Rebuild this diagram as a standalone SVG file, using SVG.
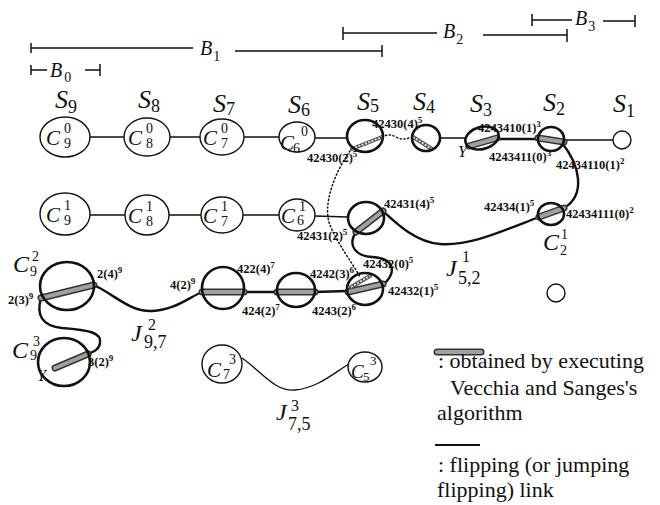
<svg xmlns="http://www.w3.org/2000/svg" width="660" height="505" viewBox="0 0 660 505">
<style>
.c{fill:none;stroke:#111;stroke-width:1.4}
.cb{fill:none;stroke:#111;stroke-width:2.6}
.ln{stroke:#111;stroke-width:1.3;fill:none}
.thk{stroke:#111;stroke-width:2.6;fill:none}
.cur{stroke:#111;stroke-width:2.4;fill:none;stroke-linecap:round}
.dot{stroke:#111;stroke-width:1.5;fill:none;stroke-dasharray:1.2 2.6;stroke-linecap:round}
.band{stroke:#333;stroke-width:7;stroke-linecap:round;fill:none}
.bandi{stroke:#a0a0a0;stroke-width:4;stroke-linecap:round;fill:none}
.hb{stroke:#555;stroke-width:4;fill:none;stroke-linecap:round}
.hbi{stroke:#ddd;stroke-width:2;fill:none;stroke-dasharray:2 1.5}
.bar{stroke:#111;stroke-width:1.5;fill:none}
.m{font-family:"Liberation Serif",serif;font-style:italic;fill:#111}
.n{font-family:"Liberation Serif",serif;font-style:normal;fill:#111}
.lab{font-family:"Liberation Serif",serif;font-weight:bold;font-size:12.5px;fill:#111}
.leg{font-family:"Liberation Serif",serif;font-size:22px;fill:#111}
</style>

<g id="bars">
<path class="bar" d="M31,43V53M31,48H193M235,51H382M382,45V57"/>
<text class="m" x="200" y="55" font-size="20">B<tspan class="n" font-size="14" dx="1" dy="6">1</tspan></text>
<path class="bar" d="M31,65V75M31,70H47M85,70H100M100,64V76"/>
<text class="m" x="50" y="77" font-size="20">B<tspan class="n" font-size="14" dx="2" dy="5">0</tspan></text>
<path class="bar" d="M343,27V40M343,33H437M483,35H567M567,29V42"/>
<text class="m" x="443" y="38" font-size="20">B<tspan class="n" font-size="14" dx="1" dy="6">2</tspan></text>
<path class="bar" d="M532,14V26M532,20H572M603,21H635M635,15V27"/>
<text class="m" x="575" y="25" font-size="20">B<tspan class="n" font-size="14" dx="1" dy="6">3</tspan></text>
</g>

<g id="stage-labels">
<text class="m" x="55" y="108" font-size="26">S<tspan class="n" font-size="18" dy="5">9</tspan></text>
<text class="m" x="138" y="108" font-size="26">S<tspan class="n" font-size="18" dy="4">8</tspan></text>
<text class="m" x="213" y="112" font-size="26">S<tspan class="n" font-size="18" dy="3">7</tspan></text>
<text class="m" x="288" y="113" font-size="26">S<tspan class="n" font-size="18" dy="3">6</tspan></text>
<text class="m" x="357" y="110" font-size="26">S<tspan class="n" font-size="18" dy="2">5</tspan></text>
<text class="m" x="413" y="110" font-size="26">S<tspan class="n" font-size="18" dy="3">4</tspan></text>
<text class="m" x="470" y="112" font-size="26">S<tspan class="n" font-size="18" dy="4">3</tspan></text>
<text class="m" x="543" y="111" font-size="26">S<tspan class="n" font-size="18" dy="4">2</tspan></text>
<text class="m" x="613" y="112" font-size="26">S<tspan class="n" font-size="18" dy="5">1</tspan></text>
</g>

<g id="connectors">
<path class="ln" d="M90,137H124M170,137H200M244,137H279M315,138H347M440,138H466M564,140H613"/>
<path class="thk" d="M498,139H538"/>
<path class="ln" d="M90,215H125M169,215H201M243,215H279M315,216L348,217"/>
<path class="thk" d="M244,292H277M315,292L347,291"/>
<path class="cur" d="M562,143C580,165 586,195 564,208"/>
<path class="cur" d="M539,217C500,232 470,246 440,244C415,242 395,222 383,211"/>
<path class="cur" d="M356,232C347,246 356,256 372,257C392,258 399,270 383,285"/>
<path class="cur" d="M94,285C115,295 130,312 152,311C175,310 188,298 202,292"/>
<path class="cur" d="M41,298C36,315 42,326 62,328C90,330 102,333 100,343C99,350 93,352 88,354"/>
<path class="ln" d="M242,358C262,372 275,392 295,390C318,388 335,372 349,364"/>
<path class="dot" d="M382,137Q389,133 396,137T411,137"/>
<path class="dot" d="M350,151C335,172 322,205 330,225C338,245 352,262 360,277"/>
<path class="band" d="M469,146L497,138"/><path class="bandi" d="M469,146L497,138"/>
<path class="band" d="M538,138L564,142"/><path class="bandi" d="M538,138L564,142"/>
<path class="band" d="M539,217L564,208"/><path class="bandi" d="M539,217L564,208"/>
<path class="band" d="M356,232L383,211"/><path class="bandi" d="M356,232L383,211"/>
<path class="band" d="M348,292L383,284"/><path class="bandi" d="M348,292L383,284"/>
<path class="band" d="M277,292H315"/><path class="bandi" d="M277,292H315"/>
<path class="band" d="M202,292H244"/><path class="bandi" d="M202,292H244"/>
<path class="band" d="M41,298L94,285"/><path class="bandi" d="M41,298L94,285"/>
<path class="band" d="M55,368L88,354"/><path class="bandi" d="M55,368L88,354"/>
<path class="hb" d="M352,149L382,137"/><path class="hbi" d="M352,149L382,137"/>
<path class="hb" d="M413,137L432,149"/><path class="hbi" d="M413,137L432,149"/>
<path class="hb" d="M351,287L370,276"/><path class="hbi" d="M351,287L370,276"/>
</g>

<g id="C9_0"><ellipse class="c" cx="65" cy="137" rx="25" ry="20"/><text class="m" x="46" y="145" font-size="21">C</text><text class="n" x="64" y="133" font-size="14">0</text><text class="n" x="64" y="148" font-size="14">9</text></g>
<g id="C8_0"><ellipse class="c" cx="147" cy="137" rx="23" ry="19"/><text class="m" x="128" y="145" font-size="21">C</text><text class="n" x="146" y="133" font-size="14">0</text><text class="n" x="146" y="148" font-size="14">8</text></g>
<g id="C7_0"><ellipse class="c" cx="222" cy="137" rx="22" ry="18"/><text class="m" x="203" y="145" font-size="21">C</text><text class="n" x="221" y="133" font-size="14">0</text><text class="n" x="221" y="148" font-size="14">7</text></g>
<g id="C6_0"><ellipse class="c" cx="297" cy="137" rx="18" ry="15"/><text class="m" x="280" y="150" font-size="21">C</text><text class="n" x="301" y="136" font-size="14">0</text><text class="n" x="293" y="153" font-size="14">6</text></g>
<g id="C5_0"><ellipse class="cb" cx="365" cy="136" rx="18" ry="16"/></g>
<g id="C4_0"><ellipse class="cb" cx="426" cy="138" rx="14" ry="13"/></g>
<g id="C3_0"><ellipse class="cb" cx="482" cy="138" rx="17" ry="11" transform="rotate(-15 482 138)"/></g>
<g id="C2_0"><ellipse class="cb" cx="551" cy="139" rx="13" ry="12"/></g>
<g id="C1_0"><circle class="c" cx="622" cy="140" r="9"/></g>

<g id="C9_1"><ellipse class="c" cx="65" cy="214" rx="25" ry="21"/><text class="m" x="46" y="222" font-size="21">C</text><text class="n" x="64" y="210" font-size="14">1</text><text class="n" x="64" y="225" font-size="14">9</text></g>
<g id="C8_1"><ellipse class="c" cx="147" cy="215" rx="22" ry="20"/><text class="m" x="128" y="223" font-size="21">C</text><text class="n" x="146" y="211" font-size="14">1</text><text class="n" x="146" y="226" font-size="14">8</text></g>
<g id="C7_1"><ellipse class="c" cx="222" cy="215" rx="21" ry="18"/><text class="m" x="203" y="223" font-size="21">C</text><text class="n" x="221" y="211" font-size="14">1</text><text class="n" x="221" y="226" font-size="14">7</text></g>
<g id="C6_1"><ellipse class="c" cx="297" cy="215" rx="18" ry="16"/><text class="m" x="281" y="223" font-size="21">C</text><text class="n" x="299" y="211" font-size="14">1</text><text class="n" x="297" y="225" font-size="14">6</text></g>
<g id="C5_1"><ellipse class="cb" cx="366" cy="218" rx="18" ry="16"/></g>
<g id="C2_1"><ellipse class="cb" cx="551" cy="214" rx="13" ry="11"/><text class="m" x="543" y="250" font-size="24">C</text><text class="n" x="561" y="239" font-size="14">1</text><text class="n" x="560" y="255" font-size="14">2</text></g>

<g id="C9_2"><ellipse class="cb" cx="67" cy="286" rx="27" ry="24"/><text class="m" x="13" y="272" font-size="24">C</text><text class="n" x="32" y="261" font-size="14">2</text><text class="n" x="30" y="276" font-size="14">9</text></g>
<g id="C7_2"><ellipse class="cb" cx="223" cy="288" rx="21" ry="21"/></g>
<g id="C6_2"><ellipse class="cb" cx="296" cy="290" rx="19" ry="17"/></g>
<g id="C5_2"><ellipse class="cb" cx="365" cy="289" rx="18" ry="16"/></g>
<g id="C2_2"><circle class="c" cx="556" cy="293" r="9"/></g>

<g id="C9_3"><ellipse class="cb" cx="64" cy="362" rx="26" ry="24"/><text class="m" x="12" y="358" font-size="24">C</text><text class="n" x="33" y="346" font-size="14">3</text><text class="n" x="30" y="360" font-size="14">9</text><text class="m" x="37" y="381" font-size="16">Y</text></g>
<g id="C7_3"><ellipse class="c" cx="222" cy="364" rx="20" ry="19"/><text class="m" x="207" y="377" font-size="21">C</text><text class="n" x="229" y="364" font-size="14">3</text><text class="n" x="223" y="379" font-size="14">7</text></g>
<g id="C5_3"><ellipse class="c" cx="365" cy="367" rx="17" ry="15"/><text class="m" x="351" y="378" font-size="19">C</text><text class="n" x="370" y="365" font-size="13">3</text><text class="n" x="363" y="381" font-size="13">5</text></g>

<g id="link-labels">
<text class="lab" x="372" y="128">42430(4)<tspan font-size="9" dy="-5">5</tspan></text>
<text class="lab" x="307" y="162">42430(2)<tspan font-size="9" dy="-5">5</tspan></text>
<text class="lab" x="478" y="132">4243410(1)<tspan font-size="9" dy="-5">3</tspan></text>
<text class="lab" x="489" y="161">4243411(0)<tspan font-size="9" dy="-5">3</tspan></text>
<text class="lab" x="556" y="169">42434110(1)<tspan font-size="9" dy="-5">2</tspan></text>
<text class="lab" x="384" y="208">42431(4)<tspan font-size="9" dy="-5">5</tspan></text>
<text class="lab" x="484" y="211">42434(1)<tspan font-size="9" dy="-5">5</tspan></text>
<text class="lab" x="566" y="218">42434111(0)<tspan font-size="9" dy="-5">2</tspan></text>
<text class="lab" x="297" y="240">42431(2)<tspan font-size="9" dy="-5">5</tspan></text>
<text class="lab" x="363" y="268">42432(0)<tspan font-size="9" dy="-5">5</tspan></text>
<text class="lab" x="388" y="295">42432(1)<tspan font-size="9" dy="-5">5</tspan></text>
<text class="lab" x="310" y="278">4242(3)<tspan font-size="9" dy="-5">6</tspan></text>
<text class="lab" x="312" y="315">4243(2)<tspan font-size="9" dy="-5">6</tspan></text>
<text class="lab" x="237" y="273">422(4)<tspan font-size="9" dy="-5">7</tspan></text>
<text class="lab" x="242" y="315">424(2)<tspan font-size="9" dy="-5">7</tspan></text>
<text class="lab" x="170" y="289">4(2)<tspan font-size="9" dy="-5">9</tspan></text>
<text class="lab" x="97" y="278">2(4)<tspan font-size="9" dy="-5">9</tspan></text>
<text class="lab" x="8" y="304">2(3)<tspan font-size="9" dy="-5">9</tspan></text>
<text class="lab" x="88" y="366">3(2)<tspan font-size="9" dy="-5">9</tspan></text>
<text class="m" x="458" y="157" font-size="16">Y</text>
</g>

<g id="J-labels">
<text class="m" x="446" y="276" font-size="24">J</text><text class="n" x="462" y="262" font-size="16">1</text><text class="n" x="458" y="284" font-size="18">5,2</text>
<text class="m" x="131" y="341" font-size="24">J</text><text class="n" x="148" y="330" font-size="16">2</text><text class="n" x="144" y="348" font-size="18">9,7</text>
<text class="m" x="276" y="420" font-size="24">J</text><text class="n" x="291" y="411" font-size="16">3</text><text class="n" x="288" y="430" font-size="18">7,5</text>
</g>

<g id="legend">
<path class="band" d="M437,352H481"/><path class="bandi" d="M437,352H481"/>
<text class="leg" x="438" y="368">: obtained by executing</text>
<text class="leg" x="450" y="395">Vecchia and Sanges's</text>
<text class="leg" x="437" y="420">algorithm</text>
<path class="thk" d="M435,445H480" style="stroke-width:2"/>
<text class="leg" x="438" y="472">: flipping (or jumping</text>
<text class="leg" x="437" y="497">flipping) link</text>
</g>
</svg>
